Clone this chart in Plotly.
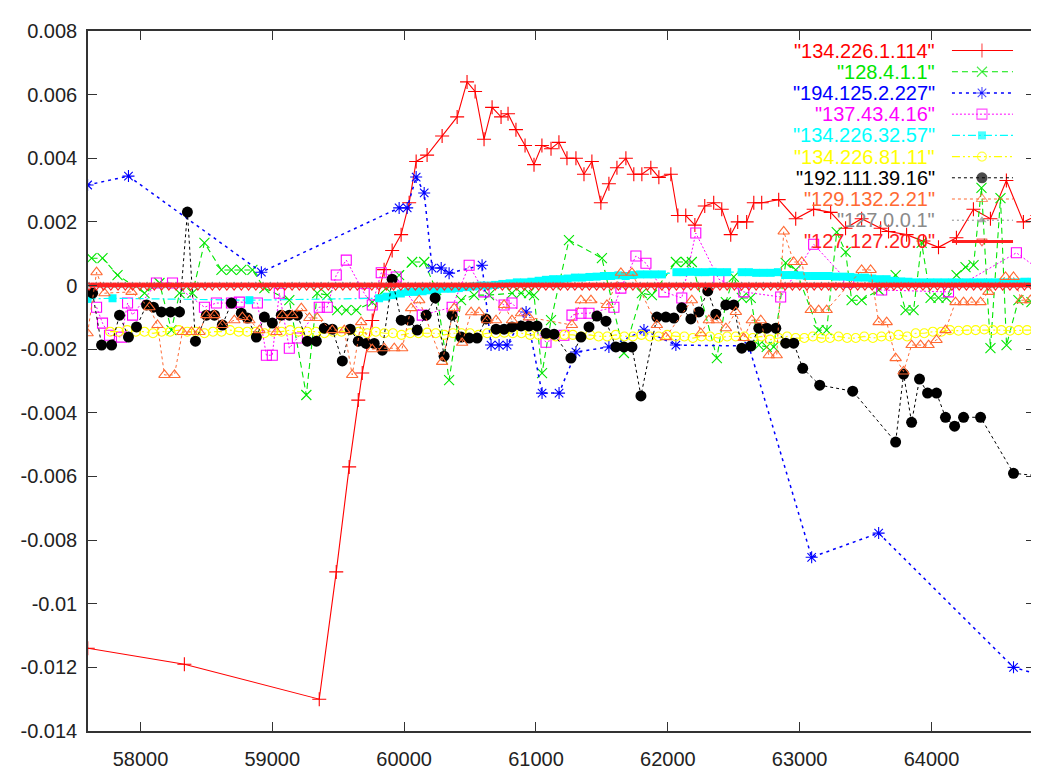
import plotly.graph_objects as go

# ---------------- data ----------------
x_tick_vals = [58000, 59000, 60000, 61000, 62000, 63000, 64000]
x_tick_text = ["58000", "59000", "60000", "61000", "62000", "63000", "64000"]
y_tick_vals = [0.008, 0.006, 0.004, 0.002, 0.0, -0.002, -0.004, -0.006, -0.008, -0.010, -0.012, -0.014]
y_tick_text = ["0.008", "0.006", "0.004", "0.002", "0", "-0.002", "-0.004", "-0.006", "-0.008", "-0.01", "-0.012", "-0.014"]

series_names = ['"134.226.1.114"', '"128.4.1.1"', '"194.125.2.227"', '"137.43.4.16"', '"134.226.32.57"',
                '"134.226.81.11"', '"192.111.39.16"', '"129.132.2.21"', '"127.0.0.1"', '"127.127.20.0"']

red_x = [57600, 58333, 59356, 59485, 59583, 59652, 59682, 59758, 59848, 59909,
         59977, 60038, 60091, 60174, 60288, 60402, 60477, 60538, 60606, 60667,
         60735, 60788, 60848, 60917, 60985, 61045, 61114, 61174, 61235, 61303,
         61364, 61424, 61492, 61553, 61614, 61682, 61742, 61803, 61871, 61932,
         62023, 62076, 62136, 62205, 62280, 62348, 62409, 62477, 62530, 62598,
         62652, 62712, 62841, 62970, 63106, 63235, 63348, 63470, 63614, 63674,
         63811, 63939, 64053, 64189, 64318, 64447, 64568, 64697, 64803]
red_y = [-0.0114, -0.0119, -0.0130, -0.0090, -0.0057, -0.0036, -0.00275, -0.0011, 0.0005, 0.0011,
         0.0016, 0.0026, 0.0039, 0.0041, 0.0047, 0.0053, 0.0064, 0.0061, 0.0046, 0.0056,
         0.0053, 0.0054, 0.0049, 0.0044, 0.0038, 0.0044, 0.0043, 0.0045, 0.0040, 0.0040,
         0.0035, 0.0039, 0.0026, 0.0032, 0.0037, 0.0040, 0.0035, 0.0035, 0.0037, 0.0034,
         0.0035, 0.0022, 0.0022, 0.0019, 0.0025, 0.0026, 0.0024, 0.0016, 0.0020, 0.0020,
         0.0026, 0.0026, 0.0027, 0.0021, 0.0024, 0.0023, 0.0018, 0.0021, 0.0018, 0.0017,
         0.0016, 0.0014, 0.0012, 0.0015, 0.0024, 0.0021, 0.0033, 0.0020, 0.0022]

green_x = [57629, 57712, 57826, 58031, 58144, 58235, 58296, 58394, 58485, 58614,
           58690, 58765, 58849, 58940, 59129, 59258, 59341, 59417, 59493, 59561,
           59637, 59758, 59864, 59962, 60061, 60152, 60243, 60341, 60432, 60531,
           60644, 60818, 60887, 60947, 60985, 61046, 61114, 61250, 61500, 61667,
           61803, 61879, 62061, 62137, 62182, 62372, 62440, 62500, 62561, 62629,
           62690, 62750, 62803, 62894, 62970, 63144, 63205, 63281, 63349, 63394,
           63470, 63599, 63728, 63803, 63864, 63925, 63993, 64053, 64114, 64190,
           64258, 64319, 64379, 64447, 64523, 64569, 64659, 64758]
green_y = [0.00086, 0.00086, 0.00033, -0.00024, 0.00008, -0.0014, -0.00024, -0.00024, 0.00134, 0.00049,
           0.00049, 0.00049, 0.00049, -0.00008, -0.00046, -0.00344, -0.00024, -0.0003, -0.00077, -0.00077,
           -0.00077, -0.00052, -0.00008, 0.00033, 0.00074, 0.00074, -0.00014, -0.00297, -0.00046, -0.0003,
           -0.0003, -0.00024, -0.00024, -0.00024, -0.0003, -0.00275, -0.00109, 0.00143, 0.00086, -0.00212,
           -0.00024, -0.0003, 0.00074, 0.00074, 0.00074, -0.00228, -0.00052, 0.00027, -0.00039, -0.00039,
           -0.00187, -0.00193, -0.00193, 0.00071, 0.00049, -0.0014, -0.0014, 0.00168, 0.00105, -0.00046,
           -0.00046, -0.00014, 0.00033, -0.00077, -0.00077, 0.00134, -0.00039, -0.00039, -0.00039, 0.00033,
           0.00058, 0.00064, 0.00307, -0.00197, 0.00275, -0.00187, -0.00046, -0.00052]

blue_x = [57599, 57909, 58917, 59962, 60023, 60091, 60152, 60212, 60281, 60341,
          60591, 60659, 60720, 60781, 60925, 61046, 61175, 61303, 61553, 61819,
          62061, 62614, 63091, 63599, 64622, 64887]
blue_y = [0.00316, 0.00344, 0.00042, 0.00244, 0.00244, 0.00341, 0.00291, 0.00055, 0.00055, 0.00039,
          0.00064, -0.00187, -0.00187, -0.00187, -0.00083, -0.00338, -0.00338, -0.00209, -0.00193, -0.0014,
          -0.00187, -0.0019, -0.00854, -0.00778, -0.0120, -0.01231]

mag_x = [57667, 57712, 57765, 57856, 57902, 57940, 58121, 58243, 58485, 58576,
         58690, 58750, 58887, 58955, 59000, 59053, 59129, 59190, 59356, 59417,
         59485, 59561, 59697, 59758, 59826, 59940, 60137, 60364, 60493, 60606,
         60758, 60818, 61076, 61212, 61273, 61341, 61402, 61591, 61644, 61758,
         61834, 61970, 62106, 62212, 62387, 62576, 62856, 63106, 63372, 63622,
         64129, 64644, 64849]
mag_y = [-0.00068, -0.00118, -0.00156, -0.00162, -0.00055, -0.00093, 0.00008, 0.00008, -0.00068, -0.00055,
         -0.00055, -0.00052, -0.00055, -0.00219, -0.00219, -0.00024, -0.00197, -0.00165, -0.00068, -0.00068,
         0.00033, 0.0008, -0.00024, -0.00061, 0.0004, 0.00027, -0.00093, -0.00068, 0.00064, -0.0002,
         -0.00061, -0.00055, -0.00178, -0.00156, -0.00093, -0.00087, -0.00087, -0.00068, -0.00008, 0.00093,
         0.0007, -0.0002, -0.00039, 0.00165, 0.0002, -0.0002, -0.00036, 0.0013, 0.0001, -0.00014,
         -0.0002, 0.00103, 0.0004]

cyan_x = [57599, 57788, 58826, 59810,
          59865, 59920, 59975, 60030, 60085, 60140, 60195, 60250, 60305, 60360, 60415,
          60470, 60525, 60580, 60635, 60690, 60745, 60800, 60855, 60910, 60965,
          61020, 61075, 61130, 61185, 61240, 61295, 61350, 61405, 61460,
          61515, 61570, 61625, 61680, 61735, 61790, 61845, 61900, 61955,
          62065, 62120, 62175, 62230, 62285, 62340, 62395, 62450,
          62560, 62615, 62670, 62725, 62780, 62835,
          62890, 62945, 63000, 63055, 63110, 63165, 63220, 63275, 63330, 63385,
          63440, 63495, 63550, 63605, 63660,
          63715, 63770, 63825, 63880, 63935, 63990, 64045, 64100, 64155, 64210,
          64265, 64320, 64375, 64430, 64485, 64540, 64595, 64650, 64705, 64760]
cyan_y = [-0.00042, -0.0004, -0.00046, -0.0004,
          -0.00035, -0.0003, -0.00025, -0.0002, -0.0002, -0.00018, -0.00015, -0.00013, -0.0001, -0.0001, -0.00008,
          -0.00005, -0.00003, 0.0, 0.0, 0.00002, 0.00005, 0.00007, 0.0001, 0.0001, 0.00012,
          0.00015, 0.00018, 0.0002, 0.0002, 0.00022, 0.00025, 0.00025, 0.00027, 0.00028,
          0.0003, 0.0003, 0.00032, 0.0003, 0.00033, 0.00035, 0.00035, 0.00035, 0.00035,
          0.00042, 0.00042, 0.00043, 0.00042, 0.00042, 0.00043, 0.00042, 0.00042,
          0.00042, 0.00042, 0.0004, 0.0004, 0.0004, 0.00042,
          0.00033, 0.00033, 0.00032, 0.0003, 0.0003, 0.0003, 0.0003, 0.00028, 0.00028, 0.00027,
          0.00025, 0.00025, 0.00022, 0.0002, 0.0002,
          0.00015, 0.00013, 0.00012, 0.0001, 0.0001, 0.0001, 0.0001, 0.0001, 0.0001, 0.0001,
          0.0001, 0.0001, 0.0001, 0.0001, 0.0001, 0.0001, 0.0001, 0.0001, 0.00012, 0.00012]

yel_x = [57770, 57835, 57900, 57965, 58030, 58095, 58160, 58225, 58290, 58355,
         58420, 58485, 58550, 58615, 58680, 58745, 58810, 58875, 58940, 59005,
         59070, 59135, 59200, 59265, 59330, 59395, 59460, 59525, 59590, 59655,
         59720, 59785, 59850, 59915, 59980, 60045, 60110, 60175, 60240, 60305,
         60370, 60435, 60500, 60565, 60630, 60695, 60760, 60825, 60890, 60955,
         61020, 61085, 61150, 61215, 61280, 61345, 61410, 61475, 61540, 61605,
         61670, 61735, 61800, 61865, 61930, 61995, 62060, 62125, 62190, 62255,
         62320, 62385, 62450, 62515, 62580, 62645, 62710, 62775, 62840, 62905,
         62970, 63035, 63100, 63165, 63230, 63295, 63360, 63425, 63490, 63555,
         63620, 63685, 63750, 63815, 63880, 63945, 64010, 64075, 64140, 64205,
         64270, 64335, 64400, 64465, 64530, 64595, 64660, 64725, 64790]
yel_y = [-0.00145, -0.00145, -0.0014, -0.00145, -0.00145, -0.0015, -0.00145, -0.00145, -0.0014, -0.00145,
         -0.00145, -0.0015, -0.00145, -0.00145, -0.0014, -0.00145, -0.00145, -0.00145, -0.0015, -0.00145,
         -0.00145, -0.0014, -0.00145, -0.00145, -0.00145, -0.0015, -0.00145, -0.00145, -0.0014, -0.00145,
         -0.0015, -0.00145, -0.0015, -0.0015, -0.00155, -0.0015, -0.0015, -0.00148, -0.0015, -0.00155,
         -0.0015, -0.0015, -0.0015, -0.00155, -0.0015, -0.0015, -0.00148, -0.0015, -0.0015, -0.00155,
         -0.00155, -0.00155, -0.0016, -0.00155, -0.00155, -0.0016, -0.00155, -0.0016, -0.0016, -0.00155,
         -0.0016, -0.0016, -0.00155, -0.0016, -0.0016, -0.00155, -0.0016, -0.0016, -0.00165, -0.0016,
         -0.0016, -0.00165, -0.0016, -0.0016, -0.0016, -0.00165, -0.0016, -0.0017, -0.00165, -0.0016,
         -0.00165, -0.00165, -0.0016, -0.00165, -0.00165, -0.0016, -0.00165, -0.00165, -0.0016, -0.00165,
         -0.0016, -0.0016, -0.00155, -0.0016, -0.0015, -0.0015, -0.00145, -0.00145, -0.0014, -0.00142,
         -0.0014, -0.0014, -0.00138, -0.0014, -0.0014, -0.00142, -0.0014, -0.0014, -0.0014]

blk_x = [57637, 57705, 57781, 57841, 57909, 57970, 58046, 58099, 58159, 58228,
         58296, 58356, 58417, 58500, 58561, 58621, 58690, 58765, 58811, 58879,
         58940, 59000, 59068, 59129, 59190, 59265, 59334, 59394, 59455, 59531,
         59591, 59652, 59712, 59773, 59834, 59909, 59978, 60038, 60099, 60167,
         60235, 60303, 60364, 60432, 60493, 60553, 60621, 60697, 60758, 60818,
         60887, 60947, 61008, 61076, 61137, 61265, 61341, 61402, 61462, 61531,
         61606, 61667, 61728, 61796, 61917, 61985, 62046, 62106, 62175, 62235,
         62303, 62364, 62440, 62500, 62561, 62629, 62690, 62750, 62819, 62894,
         62955, 63023, 63152, 63402, 63728, 63788, 63849, 63909, 63970, 64038,
         64106, 64175, 64243, 64372, 64622, 64849]
blk_y = [-0.00024, -0.00187, -0.00187, -0.00093, -0.00162, -0.0013, -0.00061, -0.00068, -0.00083, -0.00083,
         -0.00083, 0.00231, -0.00175, -0.00093, -0.00093, -0.00124, -0.00055, -0.00087, -0.00102, -0.00162,
         -0.00099, -0.00118, -0.00093, -0.00093, -0.00093, -0.00175, -0.00175, -0.00134, -0.00137, -0.00237,
         -0.00137, -0.00175, -0.00182, -0.00182, -0.00203, 0.0002, -0.00109, -0.00109, -0.0014, -0.00093,
         -0.00039, -0.00222, -0.00093, -0.00162, -0.00165, -0.00165, -0.00105, -0.00137, -0.00137, -0.0013,
         -0.00127, -0.00127, -0.00127, -0.0015, -0.00153, -0.00228, -0.00162, -0.0013, -0.00096, -0.00112,
         -0.00193, -0.00193, -0.00193, -0.00347, -0.00099, -0.00099, -0.00102, -0.0007, -0.00105, -0.00083,
         -0.00017, -0.0009, -0.00061, -0.00061, -0.00197, -0.0019, -0.00134, -0.00134, -0.00134, -0.00181,
         -0.00181, -0.0026, -0.00313, -0.00332, -0.00492, -0.00278, -0.0043, -0.00294, -0.00338, -0.00338,
         -0.00414, -0.00442, -0.00414, -0.00414, -0.0059, -0.0060]

org_x = [57599, 57667, 57727, 57932, 58068, 58129, 58182, 58258, 58318, 58387,
         58447, 58500, 58561, 58621, 58712, 58773, 58826, 58902, 59031, 59076,
         59152, 59220, 59281, 59341, 59455, 59546, 59606, 59674, 59758, 59849,
         59925, 59985, 60053, 60114, 60288, 60379, 60440, 60508, 60568, 60629,
         60697, 60758, 60818, 60887, 60947, 61273, 61341, 61417, 61538, 61644,
         61728, 61917, 61985, 62182, 62250, 62311, 62372, 62440, 62516, 62576,
         62637, 62705, 62766, 62826, 62879, 62955, 63016, 63084, 63144, 63205,
         63470, 63538, 63599, 63660, 63728, 63788, 63849, 63917, 63978, 64038,
         64106, 64182, 64243, 64303, 64372, 64432, 64561, 64622, 64682, 64750]
org_y = [-0.0015, 0.00042, -0.00024, -0.0002, -0.00068, -0.00124, -0.00281, -0.00281, -0.00146, -0.00146,
         -0.00146, -0.00093, -0.00093, -0.00124, -0.00109, -0.00099, -0.00109, -0.0014, -0.00146, -0.00093,
         -0.00093, -0.00071, -0.00102, -0.00102, -0.0014, -0.0014, -0.00281, -0.00115, -0.002, -0.00197,
         -0.00197, -0.00197, -0.00071, -0.00046, -0.0024, -0.00071, -0.0018, -0.00084, -0.00084, -0.00109,
         -0.00109, -0.00061, -0.00109, -0.00087, -0.001, -0.00124, -0.00046, -0.00046, -0.00061, 0.0004,
         0.0004, -0.00124, -0.00162, -0.00046, -0.0015, -0.00109, -0.00109, -0.00134, -0.00083, -0.00165,
         -0.00109, -0.00109, -0.00219, -0.00219, 0.0017, 0.00074, 0.00074, -0.00077, -0.00077, -0.00077,
         0.00049, 0.00049, -0.00115, -0.00115, -0.00228, -0.0027, -0.00187, -0.00187, -0.00187, -0.00171,
         -0.0014, -0.00052, -0.00052, -0.00052, -0.00052, -0.0002, 0.00027, 0.00027, -0.00046, -0.00046]

zero_x = [57610, 57665, 57720, 57775, 57830, 57885, 57940, 57995, 58050, 58105,
          58160, 58215, 58270, 58325, 58380, 58435, 58490, 58545, 58600, 58655,
          58710, 58765, 58820, 58875, 58930, 58985, 59040, 59095, 59150, 59205,
          59260, 59315, 59370, 59425, 59480, 59535, 59590, 59645, 59700, 59755,
          59810, 59865, 59920, 59975, 60030, 60085, 60140, 60195, 60250, 60305,
          60360, 60415, 60470, 60525, 60580, 60635, 60690, 60745, 60800, 60855,
          60910, 60965, 61020, 61075, 61130, 61185, 61240, 61295, 61350, 61405,
          61460, 61515, 61570, 61625, 61680, 61735, 61790, 61845, 61900, 61955,
          62010, 62065, 62120, 62175, 62230, 62285, 62340, 62395, 62450, 62505,
          62560, 62615, 62670, 62725, 62780, 62835, 62890, 62945, 63000, 63055,
          63110, 63165, 63220, 63275, 63330, 63385, 63440, 63495, 63550, 63605,
          63660, 63715, 63770, 63825, 63880, 63935, 63990, 64045, 64100, 64155,
          64210, 64265, 64320, 64375, 64430, 64485, 64540, 64595, 64650, 64705,
          64760]
zero_y = [0.0, 0.0, 0.0, 0.0, 0.0, 0.0, 0.0, 0.0, 0.0, 0.0,
          0.0, 0.0, 0.0, 0.0, 0.0, 0.0, 0.0, 0.0, 0.0, 0.0,
          0.0, 0.0, 0.0, 0.0, 0.0, 0.0, 0.0, 0.0, 0.0, 0.0,
          0.0, 0.0, 0.0, 0.0, 0.0, 0.0, 0.0, 0.0, 0.0, 0.0,
          0.0, 0.0, 0.0, 0.0, 0.0, 0.0, 0.0, 0.0, 0.0, 0.0,
          0.0, 0.0, 0.0, 0.0, 0.0, 0.0, 0.0, 0.0, 0.0, 0.0,
          0.0, 0.0, 0.0, 0.0, 0.0, 0.0, 0.0, 0.0, 0.0, 0.0,
          0.0, 0.0, 0.0, 0.0, 0.0, 0.0, 0.0, 0.0, 0.0, 0.0,
          0.0, 0.0, 0.0, 0.0, 0.0, 0.0, 0.0, 0.0, 0.0, 0.0,
          0.0, 0.0, 0.0, 0.0, 0.0, 0.0, 0.0, 0.0, 0.0, 0.0,
          0.0, 0.0, 0.0, 0.0, 0.0, 0.0, 0.0, 0.0, 0.0, 0.0,
          0.0, 0.0, 0.0, 0.0, 0.0, 0.0, 0.0, 0.0, 0.0, 0.0,
          0.0, 0.0, 0.0, 0.0, 0.0, 0.0, 0.0, 0.0, 0.0, 0.0,
          0.0]

# ---------------- styles ----------------
FONT = "Liberation Sans, Arial, Helvetica, sans-serif"
styles = [
    dict(x=red_x, y=red_y, color="#ff0000", dash="solid", lw=1.1, symbol="cross-thin", size=10, fill=False),
    dict(x=green_x, y=green_y, color="#00e600", dash="6px,4px", lw=1.1, symbol="x-thin", size=10, fill=False),
    dict(x=blue_x, y=blue_y, color="#0000ff", dash="3px,4px", lw=1.5, symbol="asterisk", size=10, fill=False),
    dict(x=mag_x, y=mag_y, color="#ff00ff", dash="2px,2px", lw=1.0, symbol="square-open", size=10, fill=False),
    dict(x=cyan_x, y=cyan_y, color="#00ffff", dash="8px,3px,2px,3px", lw=1.2, symbol="square", size=8, fill=True),
    dict(x=yel_x, y=yel_y, color="#ffff00", dash="8px,3px,2px,3px,2px,3px", lw=1.2, symbol="circle-open", size=9, fill=False),
    dict(x=blk_x, y=blk_y, color="#000000", dash="3px,3px", lw=1.0, symbol="circle", size=11, fill=True),
    dict(x=org_x, y=org_y, color="#ff6a33", dash="3px,3px", lw=1.0, symbol="triangle-up-open", size=10, fill=False),
    dict(x=zero_x, y=zero_y, color="#8a8a8a", dash="2px,3px", lw=1.0, symbol="triangle-up", size=8, fill=True),
    dict(x=zero_x, y=zero_y, color="#ff2020", dash="solid", lw=3.0, symbol="triangle-down-open", size=9, fill=False),
]

fig = go.Figure()


def marker_of(s, size):
    if s["fill"]:
        return dict(symbol=s["symbol"], size=size, color=s["color"], line=dict(width=0))
    return dict(symbol=s["symbol"], size=size, color=s["color"],
                line=dict(color=s["color"], width=1.1))


for s in styles:
    fig.add_trace(go.Scatter(
        x=s["x"], y=s["y"], mode="lines+markers",
        line=dict(color=s["color"], width=s["lw"], dash=s["dash"]),
        marker=marker_of(s, s["size"]),
        showlegend=False, hoverinfo="skip"))

# ---------------- gnuplot-like key (text right-aligned, sample on the right) ----------------
key_text_x = 0.8965
key_x = [0.9123, 0.9440, 0.9768]
key_y0, key_dy = 0.9721, 0.0303
annotations = []
for i, (name, s) in enumerate(zip(series_names, styles)):
    yy = key_y0 - i * key_dy
    annotations.append(dict(x=key_text_x, y=yy, xref="paper", yref="paper", xanchor="right",
                            yanchor="middle", text=name, showarrow=False,
                            font=dict(family=FONT, size=20, color=s["color"])))
    fig.add_trace(go.Scatter(
        x=key_x, y=[yy, yy, yy], xaxis="x2", yaxis="y2", mode="lines+markers",
        line=dict(color=s["color"], width=s["lw"], dash=s["dash"]),
        marker=marker_of(s, [0, s["size"], 0]),
        showlegend=False, hoverinfo="skip"))

axis_common = dict(showgrid=False, zeroline=False, showline=True, linecolor="#333333", linewidth=1.5,
                   mirror="ticks", ticks="inside", ticklen=9, tickwidth=1.3, tickcolor="#333333",
                   automargin=False,
                   tickfont=dict(family=FONT, size=20, color="#222222"))

# the page body adds an 8 px offset, so the figure is 8 px smaller and margins compensate
fig.update_layout(
    width=1031, height=762, autosize=False,
    margin=dict(l=80, r=4, t=23, b=39),
    paper_bgcolor="white", plot_bgcolor="white",
    xaxis=dict(range=[57602, 64785], tickmode="array", tickvals=x_tick_vals, ticktext=x_tick_text,
               ticklabelstandoff=9, **axis_common),
    yaxis=dict(range=[-0.014, 0.008], tickmode="array", tickvals=y_tick_vals, ticktext=y_tick_text,
               ticklabelstandoff=5, **axis_common),
    xaxis2=dict(overlaying="x", anchor="y2", range=[0, 1], visible=False),
    yaxis2=dict(overlaying="y", anchor="x2", range=[0, 1], visible=False),
    annotations=annotations,
    showlegend=False,
)

fig.write_html("out.html")
